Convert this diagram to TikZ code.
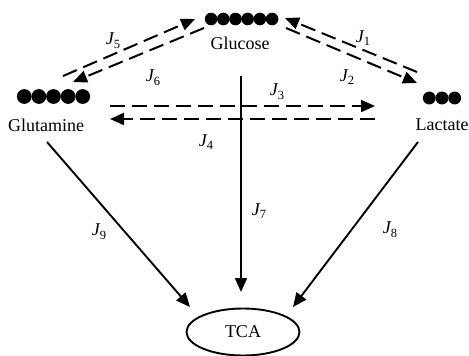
\documentclass[tikz,border=0pt]{standalone}
\usepackage{fontspec}
\setmainfont{Liberation Serif}
\usetikzlibrary{arrows.meta,shapes.geometric}

% flux label: italic J with a lowered index
\newcommand{\flux}[1]{\textit{J}\kern-0.5pt\raisebox{-0.45ex}{\fontsize{12.5}{13}\selectfont #1}}

\tikzset{
  metab/.style={font=\fontsize{18}{20}\selectfont, inner sep=0pt},
  fluxlbl/.style={font=\fontsize{18}{20}\selectfont, inner sep=0pt},
  tip/.style={-{Triangle[length=14pt,width=12pt]}},
  exch/.style={tip, line width=2pt, dash pattern=on 15pt off 7pt},
  oxid/.style={tip, line width=1.9pt},
  ball/.style={fill=black, draw=none},
}

\begin{document}
\begin{tikzpicture}[x=1pt,y=-1pt]
\useasboundingbox (0,0) rectangle (469,356);

% metabolite names
\node[metab] (glc) at (240,43) {Glucose};
\node[metab] (gln) at (46,125) {Glutamine};
\node[metab] (lac) at (442,125) {Lactate};
\node[metab, draw, ellipse, line width=1.9pt, minimum width=113pt, minimum height=47pt] (tca) at (243,332) {TCA};

% carbon skeletons
\foreach \i in {0,...,5} \fill[ball] (211.1+12.2*\i,19) circle (6.3);
\foreach \i in {0,...,4} \fill[ball] (24.3+14.6*\i,96.5) circle (7.4);
\foreach \i in {0,...,2} \fill[ball] (429.3+12.7*\i,98) circle (6.45);

% end points of the exchange arrows
\coordinate (a5s) at (63,76);   \coordinate (a5e) at (195,19);
\coordinate (a6s) at (204,28);  \coordinate (a6e) at (73,82);
\coordinate (a1s) at (417,72);  \coordinate (a1e) at (285,18);
\coordinate (a2s) at (286,28);  \coordinate (a2e) at (417,83);
\coordinate (a3s) at (110,106); \coordinate (a3e) at (375,106);
\coordinate (a4s) at (375,119); \coordinate (a4e) at (110,119);
% end points of the oxidation arrows
\coordinate (a7s) at (241,76);  \coordinate (a7e) at (241,292);
\coordinate (a9s) at (47,142);  \coordinate (a9e) at (190,307);
\coordinate (a8s) at (418,142); \coordinate (a8e) at (293,307);

\draw[exch] (a5s) -- (a5e);
\draw[exch] (a6s) -- (a6e);
\draw[exch] (a1s) -- (a1e);
\draw[exch] (a2s) -- (a2e);
\draw[exch] (a3s) -- (a3e);
\draw[exch] (a4s) -- (a4e);
\draw[oxid] (a7s) -- (a7e);
\draw[oxid] (a9s) -- (a9e);
\draw[oxid] (a8s) -- (a8e);

% flux labels
\node[fluxlbl] (l1) at (363,38) {\flux{1}};
\node[fluxlbl] (l2) at (347,77) {\flux{2}};
\node[fluxlbl] (l3) at (277,92) {\flux{3}};
\node[fluxlbl] (l4) at (206,142) {\flux{4}};
\node[fluxlbl] (l5) at (113,41) {\flux{5}};
\node[fluxlbl] (l6) at (153,78) {\flux{6}};
\node[fluxlbl] (l7) at (259,211) {\flux{7}};
\node[fluxlbl] (l8) at (390,230) {\flux{8}};
\node[fluxlbl] (l9) at (99,232) {\flux{9}};
\end{tikzpicture}
\end{document}
